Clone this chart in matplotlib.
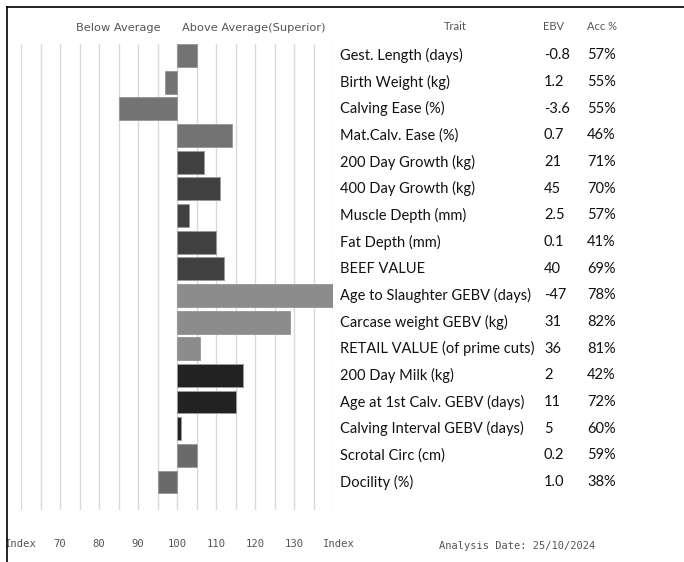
import matplotlib
matplotlib.use("Agg")
import matplotlib.pyplot as plt
import matplotlib.transforms as mtransforms
from matplotlib.lines import Line2D

traits = ["Gest. Length (days)", "Birth Weight (kg)", "Calving Ease (%)", "Mat.Calv. Ease (%)",
          "200 Day Growth (kg)", "400 Day Growth (kg)", "Muscle Depth (mm)", "Fat Depth (mm)",
          "BEEF VALUE", "Age to Slaughter GEBV (days)", "Carcase weight GEBV (kg)",
          "RETAIL VALUE (of prime cuts)", "200 Day Milk (kg)", "Age at 1st Calv. GEBV (days)",
          "Calving Interval GEBV (days)", "Scrotal Circ (cm)", "Docility (%)"]
ebv = ["-0.8", "1.2", "-3.6", "0.7", "21", "45", "2.5", "0.1", "40", "-47", "31", "36",
       "2", "11", "5", "0.2", "1.0"]
acc = ["57%", "55%", "55%", "46%", "71%", "70%", "57%", "41%", "69%", "78%", "82%", "81%",
       "42%", "72%", "60%", "59%", "38%"]
index_vals = [105, 97, 85, 114, 107, 111, 103, 110, 112, 140, 129, 106, 117, 115, 101, 105, 95]
bar_colors = ["#737373"] * 4 + ["#404040"] * 5 + ["#8c8c8c"] * 3 + ["#222222"] * 3 + ["#6a6a6a"] * 2
tick_vals = [60, 70, 80, 90, 100, 110, 120, 130, 140]
tick_labels = ["Index", "70", "80", "90", "100", "110", "120", "130", "Index"]
baseline = 100

W, H = 684, 562
fig = plt.figure(figsize=(W / 100, H / 100), dpi=100)
fig.patch.set_facecolor("white")

ax_left, ax_right = 21, 333
ax_top, ax_bot = 44, 510
ax = fig.add_axes([ax_left / W, 1 - ax_bot / H, (ax_right - ax_left) / W, (ax_bot - ax_top) / H])

ys = list(range(len(traits)))
lefts = [min(v, baseline) for v in index_vals]
widths = [abs(v - baseline) for v in index_vals]
ax.barh(ys, widths, left=lefts, height=0.86, color=bar_colors, edgecolor="#9a9a9a",
        linewidth=0.7, zorder=3)

ax.set_xlim(60, 140)
ax.set_ylim(17.05, -0.43)
for gx in range(60, 141, 5):
    ax.axvline(gx, color="#d9d9d9", linewidth=1.0, zorder=1)
for s in ax.spines.values():
    s.set_visible(False)
ax.set_yticks([])
ax.set_xticks(tick_vals)
ax.set_xticklabels(tick_labels, family="DejaVu Sans Mono", fontsize=7.6, color="#555555")
ax.tick_params(axis="x", length=0, pad=21)
last = ax.get_xticklabels()[-1]
last.set_transform(last.get_transform() + mtransforms.ScaledTranslation(6 / 100, 0, fig.dpi_scale_trans))

# headers
fig.text(118 / W, 1 - 28 / H, "Below Average", family="DejaVu Sans", fontsize=8.2,
         color="#555555", ha="center", va="center")
fig.text(254 / W, 1 - 28 / H, "Above Average(Superior)", family="DejaVu Sans", fontsize=8.2,
         color="#555555", ha="center", va="center")
fig.text(455 / W, 1 - 26 / H, "Trait", family="Lato", fontsize=8, color="#555555",
         ha="center", va="center")
fig.text(543 / W, 1 - 26 / H, "EBV", family="Lato", fontsize=8, color="#555555",
         ha="left", va="center")
fig.text(587 / W, 1 - 26 / H, "Acc %", family="Lato", fontsize=8, color="#555555",
         ha="left", va="center")

trans = mtransforms.blended_transform_factory(fig.transFigure, ax.transData)
for i, (t, e, a) in enumerate(zip(traits, ebv, acc)):
    fig.text(340 / W, i, t, transform=trans, family="Lato", fontsize=10.5, color="#111111",
             ha="left", va="center")
    fig.text(544 / W, i, e, transform=trans, family="Lato", fontsize=10.5, color="#111111",
             ha="left", va="center")
    fig.text(587 / W, i, a, transform=trans, family="Lato", fontsize=10.5, color="#111111",
             ha="left", va="center")

fig.text(517 / W, 1 - 546 / H, "Analysis Date: 25/10/2024", family="DejaVu Sans Mono",
         fontsize=7.5, color="#555555", ha="center", va="center")

# frame lines (top and left)
fig.add_artist(Line2D([7 / W, 1], [1 - 7 / H, 1 - 7 / H], transform=fig.transFigure,
                      color="black", linewidth=1.2))
fig.add_artist(Line2D([7 / W, 7 / W], [0, 1 - 7 / H], transform=fig.transFigure,
                      color="black", linewidth=1.2))

fig.savefig("out.png", dpi=100)
